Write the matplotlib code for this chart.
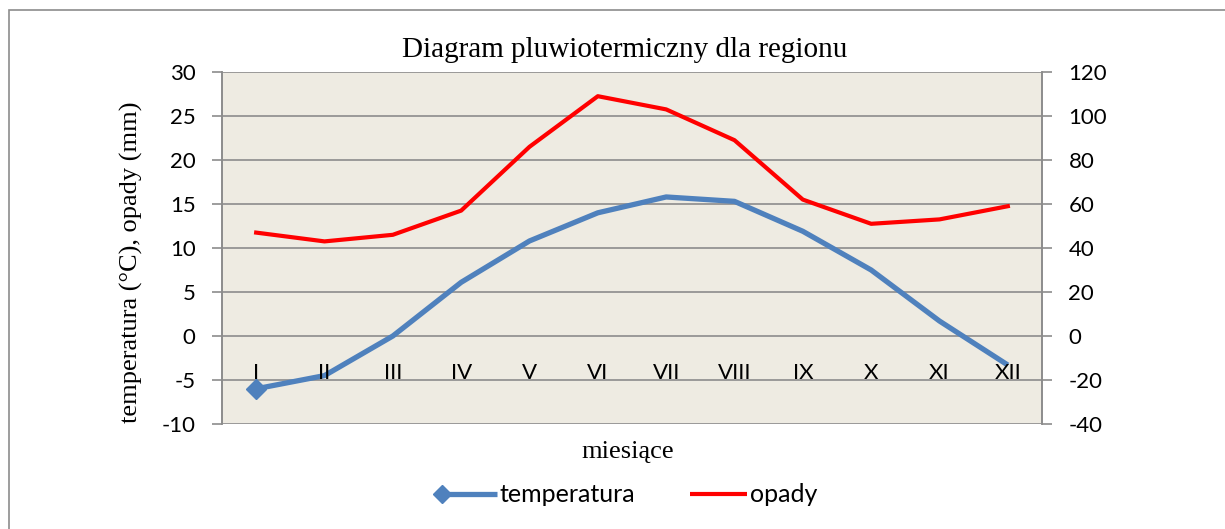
import matplotlib
matplotlib.use("Agg")
import matplotlib.pyplot as plt
from matplotlib.patches import Rectangle
from matplotlib.lines import Line2D

plt.rcParams["axes.unicode_minus"] = False

months = ["I", "II", "III", "IV", "V", "VI", "VII", "VIII", "IX", "X", "XI", "XII"]
temperatura = [-6.0, -4.5, 0.0, 6.1, 10.8, 14.0, 15.8, 15.3, 11.9, 7.5, 1.7, -3.3]
opady = [47, 43, 46, 57, 86, 109, 103, 89, 62, 51, 53, 59]
left_ticks = list(range(-10, 31, 5))
right_ticks = list(range(-40, 121, 20))

W, H = 1225, 529
fig = plt.figure(figsize=(W / 100, H / 100), dpi=100)
fig.patch.set_facecolor("white")

# outer chart border
fig.patches.append(Rectangle((9 / W, -0.2), 1.2, 1.2 - 10 / H, transform=fig.transFigure,
                             fill=False, edgecolor="#8c8c8c", linewidth=1.2))

ax = fig.add_axes([222 / W, 1 - 424 / H, 820 / W, 352 / H])
ax.set_facecolor("#EEEBE2")
ax2 = ax.twinx()

x = list(range(len(months)))
grey = "#8c8c8c"
tick_font = "Lato"
serif = "Liberation Serif"
blue = "#4F81BD"
red = "#FF0000"

ax.set_xlim(-0.5, 11.5)
ax.set_ylim(-10, 30)
ax2.set_ylim(-40, 120)
ax.set_yticks(left_ticks)
ax2.set_yticks(right_ticks)
ax.set_xticks([])
ax.yaxis.grid(True, color=grey, linewidth=1.2)
ax.set_axisbelow(True)

for a in (ax, ax2):
    for s in ("top", "bottom"):
        a.spines[s].set_visible(False)
    a.spines["left"].set_color(grey)
    a.spines["right"].set_color(grey)
    a.spines["left"].set_linewidth(1.2)
    a.spines["right"].set_linewidth(1.2)
    a.tick_params(axis="y", length=7, width=1.2, color=grey, labelsize=16, pad=12)
    for lbl in a.get_yticklabels():
        lbl.set_fontfamily(tick_font)

ax.plot(x, temperatura, color=blue, linewidth=3.8, marker="D", markersize=10,
        markevery=[0], solid_capstyle="butt", zorder=3)
ax2.plot(x, opady, color=red, linewidth=3.0, zorder=3)

for i, m in enumerate(months):
    ax.text(i, -4.2, m, ha="center", va="center", fontsize=16, fontfamily=tick_font, zorder=4)

fig.text(625 / W, 1 - 50 / H, "Diagram pluwiotermiczny dla regionu", ha="center", va="center",
         fontsize=21, fontfamily=serif)
fig.text(628 / W, 1 - 452 / H, "miesiące", ha="center", va="center", fontsize=19, fontfamily=serif)
fig.text(131 / W, 1 - 262 / H, "temperatura (\u00b0C), opady (mm)", ha="center", va="center",
         rotation=90, fontsize=19, fontfamily=serif)

# legend drawn manually (diamond at left end of the blue sample line)
ly = 1 - 494 / H
fig.lines.append(Line2D([442 / W, 497 / W], [ly, ly], transform=fig.transFigure,
                        color=blue, linewidth=3.8, solid_capstyle="butt"))
fig.lines.append(Line2D([442 / W], [ly], transform=fig.transFigure, color=blue,
                        marker="D", markersize=9, linestyle="none"))
fig.text(499 / W, ly, "temperatura", ha="left", va="center", fontsize=18, fontfamily=tick_font)
fig.lines.append(Line2D([690 / W, 747 / W], [ly, ly], transform=fig.transFigure,
                        color=red, linewidth=3.0, solid_capstyle="butt"))
fig.text(750 / W, ly, "opady", ha="left", va="center", fontsize=18, fontfamily=tick_font)

fig.savefig("out.png", dpi=100)
